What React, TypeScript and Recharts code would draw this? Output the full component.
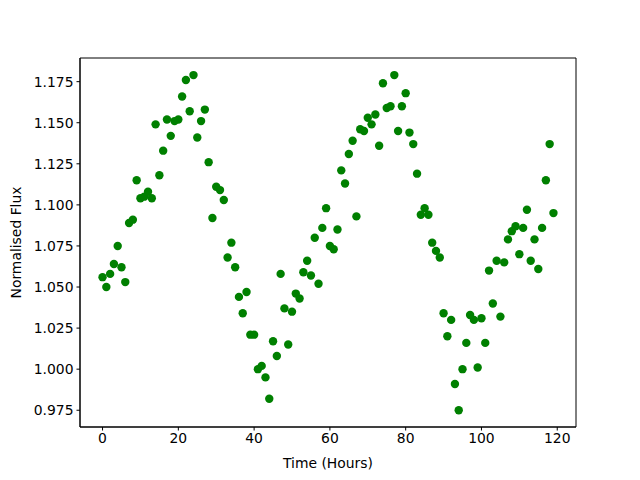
import {
	ReferenceArea,
	Scatter,
	ScatterChart,
	XAxis,
	YAxis,
} from "recharts";

// one reading per hour
const hours: number[] = Array.from({ length: 120 }, (_, i) => i);
const flux: number[] = [
	1.056, 1.05, 1.058, 1.064, 1.075, 1.062, 1.053, 1.089, 1.091, 1.115,
	1.104, 1.105, 1.108, 1.104, 1.149, 1.118, 1.133, 1.152, 1.142, 1.151,
	1.152, 1.166, 1.176, 1.157, 1.179, 1.141, 1.151, 1.158, 1.126, 1.092,
	1.111, 1.109, 1.103, 1.068, 1.077, 1.062, 1.044, 1.034, 1.047, 1.021,
	1.021, 1.0, 1.002, 0.995, 0.982, 1.017, 1.008, 1.058, 1.037, 1.015,
	1.035, 1.046, 1.043, 1.059, 1.066, 1.057, 1.08, 1.052, 1.086, 1.098,
	1.075, 1.073, 1.085, 1.121, 1.113, 1.131, 1.139, 1.093, 1.146, 1.145,
	1.153, 1.149, 1.155, 1.136, 1.174, 1.159, 1.16, 1.179, 1.145, 1.16,
	1.168, 1.144, 1.137, 1.119, 1.094, 1.098, 1.094, 1.077, 1.072, 1.068,
	1.034, 1.02, 1.03, 0.991, 0.975, 1.0, 1.016, 1.033, 1.03, 1.001,
	1.031, 1.016, 1.06, 1.04, 1.066, 1.032, 1.065, 1.079, 1.084, 1.087,
	1.07, 1.086, 1.097, 1.066, 1.079, 1.061, 1.086, 1.115, 1.137, 1.095,
];
const xTicks = [0, 20, 40, 60, 80, 100, 120];
const yTicks = [0.975, 1.0, 1.025, 1.05, 1.075, 1.1, 1.125, 1.15, 1.175];

const data = hours.map((h, i) => ({ time: h, flux: flux[i] }));

const X_DOMAIN: [number, number] = [-5.95, 124.95];
const Y_DOMAIN: [number, number] = [0.9648, 1.1894];

const font = "'DejaVu Sans', sans-serif";
const tickStyle = { fill: "#000", fontSize: 13.9, fontFamily: font };

const Dot = (props: any) => (
	<circle cx={props.cx} cy={props.cy} r={4.2} fill="#008000" />
);

export default function App() {
	return (
		<div style={{ position: "absolute", top: 0, left: 0, background: "#fff" }}>
			<ScatterChart
				width={640}
				height={480}
				margin={{ top: 58, right: 64, bottom: 0, left: 0 }}
			>
				<XAxis
					type="number"
					dataKey="time"
					domain={X_DOMAIN}
					ticks={xTicks}
					allowDataOverflow
					tick={tickStyle}
					tickSize={3.5}
					tickMargin={3}
					stroke="#000"
					height={53}
					label={{
						value: "Time (Hours)",
						position: "insideBottom",
						offset: 12,
						style: { fill: "#000", fontSize: 13.9, fontFamily: font },
					}}
				/>
				<YAxis
					type="number"
					dataKey="flux"
					domain={Y_DOMAIN}
					ticks={yTicks}
					allowDataOverflow
					tickFormatter={(v: number) => v.toFixed(3)}
					tick={tickStyle}
					tickSize={3.5}
					tickMargin={3}
					stroke="#000"
					width={80}
					label={{
						value: "Normalised Flux",
						angle: -90,
						position: "insideLeft",
						offset: 16,
						style: {
							fill: "#000",
							fontSize: 13.9,
							fontFamily: font,
							textAnchor: "middle",
						},
					}}
				/>
				<ReferenceArea
					x1={X_DOMAIN[0]}
					x2={X_DOMAIN[1]}
					y1={Y_DOMAIN[0]}
					y2={Y_DOMAIN[1]}
					fill="none"
					stroke="#000"
					strokeWidth={1}
					fillOpacity={0}
				/>
				<Scatter data={data} shape={Dot} isAnimationActive={false} />
			</ScatterChart>
		</div>
	);
}
